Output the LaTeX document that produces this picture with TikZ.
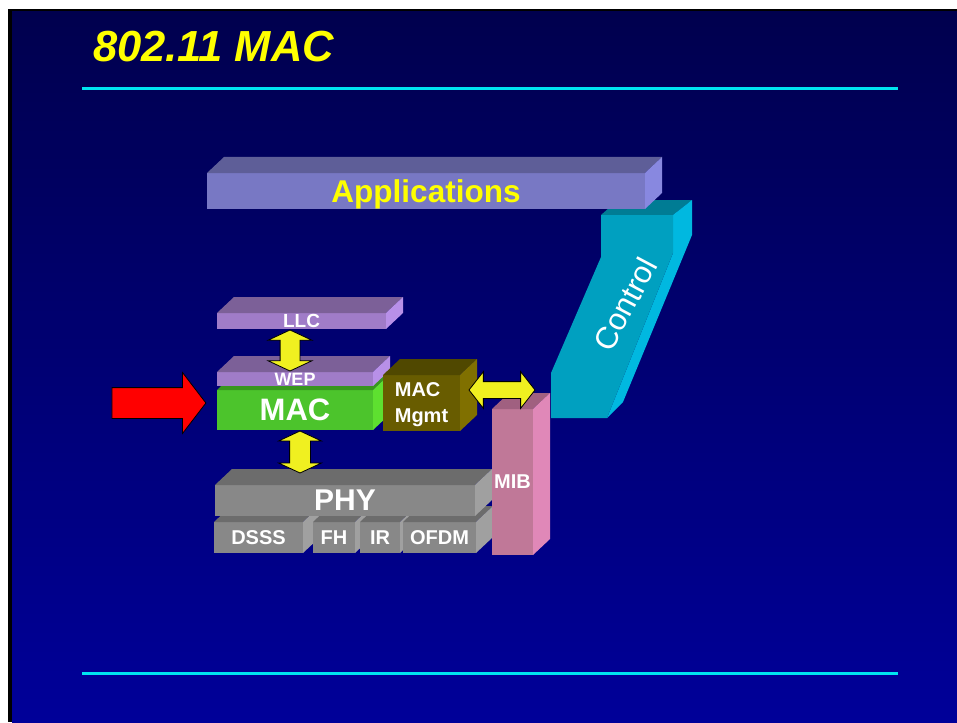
\documentclass[tikz,border=0pt]{standalone}
\usepackage{fontspec}
\setmainfont{Liberation Sans}
\usetikzlibrary{calc,shapes.arrows}

\definecolor{slidetop}{RGB}{0,0,78}
\definecolor{slidebot}{RGB}{0,0,153}
\definecolor{rulecyan}{RGB}{0,228,240}
\definecolor{titleyel}{RGB}{255,255,0}
\definecolor{appfront}{RGB}{120,120,196}
\definecolor{apptop}{RGB}{94,94,152}
\definecolor{appside}{RGB}{136,136,224}
\definecolor{ctlfront}{RGB}{0,160,192}
\definecolor{ctltop}{RGB}{0,124,148}
\definecolor{ctlside}{RGB}{0,184,224}
\definecolor{llcfront}{RGB}{160,124,200}
\definecolor{llctop}{RGB}{124,96,152}
\definecolor{llcside}{RGB}{184,144,232}
\definecolor{macfront}{RGB}{76,196,44}
\definecolor{mactop}{RGB}{56,150,30}
\definecolor{macside}{RGB}{94,224,48}
\definecolor{mgmtfront}{RGB}{104,92,0}
\definecolor{mgmttop}{RGB}{80,72,0}
\definecolor{mgmtside}{RGB}{128,112,0}
\definecolor{phyfront}{RGB}{136,136,136}
\definecolor{phytop}{RGB}{108,108,108}
\definecolor{physide}{RGB}{160,160,160}
\definecolor{mibfront}{RGB}{192,120,152}
\definecolor{mibtop}{RGB}{160,96,128}
\definecolor{mibside}{RGB}{224,136,184}
\definecolor{arrowyel}{RGB}{240,240,32}

% top and right faces of a layer, behind its front node
\newcommand{\slab}[3]{%
  \fill[#2] (#1.north west) -- ++(17,-16) -- ($(#1.north east)+(17,-16)$) -- (#1.north east) -- cycle;
  \fill[#3] (#1.north east) -- ++(17,-16) -- ($(#1.south east)+(17,-16)$) -- (#1.south east) -- cycle;
}

\begin{document}
\begin{tikzpicture}[x=1pt,y=-1pt]
            \tikzstyle{every node}+=[inner sep=0pt, outer sep=0pt]
            \tikzstyle{layer}=[rectangle, text=white, text depth=0pt, align=center]
            \tikzstyle{updown}=[double arrow, draw=black, fill=arrowyel, line width=0.8pt, text depth=0pt]
            \useasboundingbox (0,0) rectangle (957,722);
            \fill [white] (0,0) rectangle (957,722);
            \fill [black] (8,9) rectangle (957,722);
            \shade [top color=slidetop, bottom color=slidebot] (12,12) rectangle (957,722);
            % title
            \node [anchor=base west, text=titleyel, font=\fontsize{43.5}{50}\selectfont\bfseries\itshape] (title) at (93,62) {802.11 MAC};
            \draw [rulecyan, line width=3pt] (82,89) -- (898,89);
            \draw [rulecyan, line width=3pt] (82,673) -- (898,673);
            % control
            \fill [ctltop] (601,215) -- (618,200) -- (692,200) -- (673,215) -- cycle;
            \fill [ctlside] (673,215) -- (692,200) -- (692,235) -- (623,402) -- (607,418) -- (673,253) -- cycle;
            \fill [ctlfront] (601,215) -- (673,215) -- (673,253) -- (607,418) -- (551,418) -- (551,373) -- (601,257) -- cycle;
            \node [rotate=62, text=white, font=\fontsize{31}{31}\selectfont] (ctl) at (625,304) {Control};
            % applications
            \node [layer, fill=appfront, minimum width=438, minimum height=36, text=titleyel, font=\fontsize{31.5}{36}\selectfont\bfseries] (apps) at (426,191) {Applications};
            \slab{apps}{apptop}{appside}
            % llc, mac, wep
            \node [layer, fill=llcfront, minimum width=169, minimum height=16, font=\fontsize{19}{22}\selectfont\bfseries] (llc) at (301.5,321) {LLC};
            \slab{llc}{llctop}{llcside}
            \node [layer, fill=macfront, minimum width=156, minimum height=40, font=\fontsize{31}{36}\selectfont\bfseries] (mac) at (295,410) {MAC};
            \slab{mac}{mactop}{macside}
            \node [layer, fill=llcfront, minimum width=156, minimum height=14, font=\fontsize{18}{22}\selectfont\bfseries] (wep) at (295,379) {WEP};
            \slab{wep}{llctop}{llcside}
            \node [updown, rotate=90, text height=19pt, minimum height=41, double arrow head extend=12, double arrow tip angle=130] (llcwep) at (290,350.5) {};
            \node [layer, fill=mgmtfront, minimum width=77, minimum height=56, align=left, font=\fontsize{20}{26}\selectfont\bfseries] (mgmt) at (421.5,403) {MAC\\Mgmt};
            \slab{mgmt}{mgmttop}{mgmtside}
            % phy
            \node [layer, fill=phyfront, minimum width=89, minimum height=31, font=\fontsize{20}{24}\selectfont\bfseries] (dsss) at (258.5,537.5) {DSSS};
            \slab{dsss}{phytop}{physide}
            \node [layer, fill=phyfront, minimum width=42, minimum height=31, font=\fontsize{20}{24}\selectfont\bfseries] (fh) at (334,537.5) {FH};
            \slab{fh}{phytop}{physide}
            \node [layer, fill=phyfront, minimum width=40, minimum height=31, font=\fontsize{20}{24}\selectfont\bfseries] (ir) at (380,537.5) {IR};
            \slab{ir}{phytop}{physide}
            \node [layer, fill=phyfront, minimum width=73, minimum height=31, font=\fontsize{20}{24}\selectfont\bfseries] (ofdm) at (439.5,537.5) {OFDM};
            \slab{ofdm}{phytop}{physide}
            \node [layer, fill=phyfront, minimum width=260, minimum height=31, font=\fontsize{30}{36}\selectfont\bfseries] (phy) at (345,500.5) {PHY};
            \slab{phy}{phytop}{physide}
            \node [updown, rotate=90, text height=20pt, minimum height=42, double arrow head extend=11, double arrow tip angle=130] (macphy) at (300,452) {};
            % mib
            \node [layer, fill=mibfront, minimum width=41, minimum height=146, font=\fontsize{20}{24}\selectfont\bfseries] (mib) at (512.5,482) {MIB};
            \slab{mib}{mibtop}{mibside}
            \node [updown, text height=16pt, minimum height=66, double arrow head extend=10, double arrow tip angle=104] (mgmtmib) at (502,390) {};
            % input
            \node [single arrow, draw=black, fill=red, line width=0.8pt, text height=30pt, text depth=0pt, minimum height=94, single arrow head extend=15, single arrow tip angle=105] (input) at (153,403) {};
\end{tikzpicture}
\end{document}
